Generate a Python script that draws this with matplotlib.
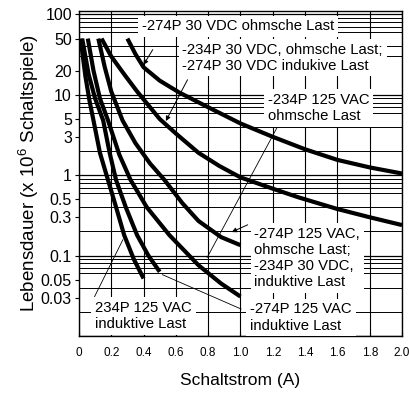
import matplotlib.pyplot as plt
from matplotlib.ticker import FixedLocator, LogLocator, NullFormatter
import numpy as np

plt.rcParams['font.family'] = ['Liberation Sans', 'DejaVu Sans']
plt.rcParams['mathtext.fontset'] = 'custom'
plt.rcParams['mathtext.rm'] = 'Liberation Sans'

# curves (current A, life x10^6 operations)
# -274P 30 VDC ohmsche Last
c1_x = [0.30, 0.35, 0.40, 0.50, 0.62, 0.80, 1.00, 1.20, 1.40, 1.60, 1.80, 2.00]
c1_y = [50, 32, 22, 15, 10.7, 7.0, 4.4, 3.0, 2.1, 1.55, 1.25, 1.05]
# -234P 30 VDC ohmsche Last; -274P 30 VDC induktive Last
c2_x = [0.14, 0.20, 0.28, 0.36, 0.50, 0.60, 0.74, 0.87, 1.00, 1.20, 1.36, 1.60, 1.80, 2.00]
c2_y = [50, 30, 18, 11, 5.0, 3.3, 1.9, 1.3, 0.94, 0.68, 0.53, 0.38, 0.30, 0.24]
# -274P 125 VAC ohmsche Last; -234P 30 VDC induktive Last
c3_x = [0.12, 0.16, 0.20, 0.27, 0.35, 0.44, 0.53, 0.64, 0.74, 0.88, 1.00]
c3_y = [50, 22, 11, 4.8, 2.5, 1.4, 0.87, 0.45, 0.27, 0.17, 0.135]
# -234P 125 VAC ohmsche Last
c4_x = [0.055, 0.09, 0.13, 0.18, 0.25, 0.32, 0.42, 0.56, 0.74, 0.88, 1.00]
c4_y = [50, 20, 9, 4.8, 1.8, 0.87, 0.40, 0.18, 0.076, 0.045, 0.031]
# -274P 125 VAC induktive Last
c5_x = [0.02, 0.06, 0.10, 0.15, 0.19, 0.23, 0.29, 0.36, 0.43, 0.50]
c5_y = [50, 18, 9, 4.8, 1.9, 0.87, 0.40, 0.18, 0.10, 0.063]
# 234P 125 VAC induktive Last
c6_x = [0.01, 0.04, 0.065, 0.09, 0.13, 0.18, 0.23, 0.28, 0.34, 0.40]
c6_y = [50, 17, 8.5, 4.8, 1.9, 0.87, 0.40, 0.18, 0.09, 0.052]

y_ticks = [100, 50, 20, 10, 5, 3, 1, 0.5, 0.3, 0.1, 0.05, 0.03]
y_labels = ['100', '50', '20', '10', '5', '3', '1', '0.5', '0.3', '0.1', '0.05', '0.03']
x_ticks = [0, 0.2, 0.4, 0.6, 0.8, 1.0, 1.2, 1.4, 1.6, 1.8, 2.0]
x_labels = ['0', '0.2', '0.4', '0.6', '0.8', '1.0', '1.2', '1.4', '1.6', '1.8', '2.0']

fig = plt.figure(figsize=(4.09, 3.94), dpi=100)
ax = fig.add_axes([0.193, 0.147, 0.790, 0.825])

ax.set_yscale('log')
ax.set_xlim(0, 2.0)
ax.set_ylim(0.01, 110)

# grid
ax.yaxis.set_major_locator(FixedLocator(y_ticks))
ax.yaxis.set_minor_locator(LogLocator(base=10, subs=np.arange(2, 10)))
ax.yaxis.set_minor_formatter(NullFormatter())
ax.set_yticklabels(y_labels, fontsize=11.5)
ax.set_xticks(x_ticks)
ax.set_xticklabels(x_labels, fontsize=8.5)
for v in np.logspace(-2, 2, 5):
    ax.axhline(v, color='black', lw=0.9, zorder=1)
ax.grid(True, which='minor', axis='y', color='black', lw=0.7, zorder=1)
ax.grid(True, which='major', axis='x', color='black', lw=0.8, zorder=1)
ax.tick_params(axis='y', which='major', length=3, pad=2)
ax.tick_params(axis='y', which='minor', length=0)
ax.tick_params(axis='x', direction='in', length=3, pad=8)
for s in ax.spines.values():
    s.set_linewidth(1.0)

for cx, cy in [(c1_x, c1_y), (c2_x, c2_y), (c3_x, c3_y),
               (c4_x, c4_y), (c5_x, c5_y), (c6_x, c6_y)]:
    ax.plot(cx, cy, color='black', lw=3, solid_capstyle='butt', zorder=3)

box = dict(boxstyle='square,pad=0.25', fc='white', ec='none')
tkw = dict(fontsize=10.7, va='center', ha='left', zorder=5, bbox=box, linespacing=1.2)
ax.text(0.39, 71, '-274P 30 VDC ohmsche Last', **tkw)
ax.text(0.64, 29, '-234P 30 VDC, ohmsche Last;\n-274P 30 VDC indukive Last', **tkw)
ax.text(1.17, 6.9, '-234P 125 VAC\nohmsche Last', **tkw)
ax.text(1.086, 0.093, '-274P 125 VAC,\nohmsche Last;\n-234P 30 VDC,\ninduktive Last', **tkw)
ax.text(1.06, 0.017, '-274P 125 VAC\ninduktive Last', **tkw)
ax.text(0.10, 0.0178, '234P 125 VAC\ninduktive Last', **tkw)

# leader lines
akw = dict(arrowstyle='-|>', color='black', lw=0.7, mutation_scale=7)
lkw = dict(arrowstyle='-', color='black', lw=0.6)
ax.annotate('', xy=(0.39, 22), xytext=(0.466, 39), arrowprops=akw, zorder=4)
ax.annotate('', xy=(0.53, 4.4), xytext=(0.68, 16.5), arrowprops=akw, zorder=4)
ax.annotate('', xy=(0.785, 0.088), xytext=(1.25, 4.8), arrowprops=lkw, zorder=4)
ax.annotate('', xy=(0.93, 0.19), xytext=(1.06, 0.25), arrowprops=akw, zorder=4)
ax.annotate('', xy=(0.5, 0.06), xytext=(1.02, 0.021), arrowprops=lkw, zorder=4)
ax.annotate('', xy=(0.28, 0.17), xytext=(0.086, 0.028), arrowprops=lkw, zorder=4)

ax.set_xlabel('Schaltstrom (A)', fontsize=12.5, labelpad=10)
ax.set_ylabel('Lebensdauer (x 10$^6$ Schaltspiele)', fontsize=13.5, labelpad=0)

fig.savefig('out.png', dpi=100)
